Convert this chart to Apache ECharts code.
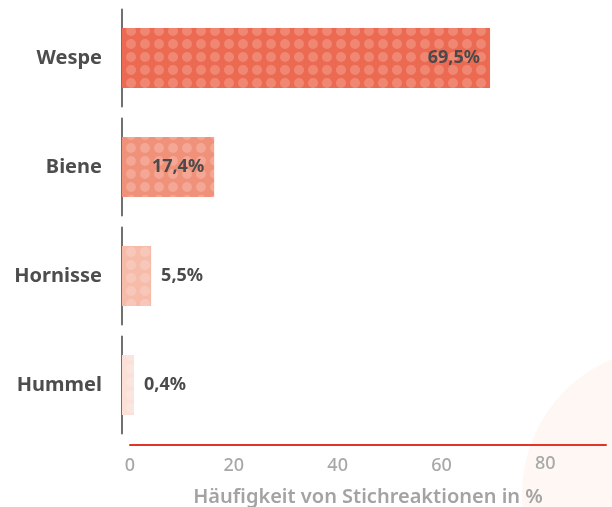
<!DOCTYPE html>
<html>
<head>
<meta charset="utf-8">
<script src="https://cdn.jsdelivr.net/npm/echarts@6/dist/echarts.min.js"></script>
<style>
html,body{margin:0;padding:0;background:#fff;}
#c{width:612px;height:507px;}
</style>
</head>
<body>
<div id="c"></div>
<script>
const categories = ['Wespe', 'Biene', 'Hornisse', 'Hummel'];
const values = [69.5, 17.4, 5.5, 0.4];
const tickValues = [0, 20, 40, 60, 80];
const axisTitle = 'Häufigkeit von Stichreaktionen in %';

const barColors = ['#ec6a51', '#f0917a', '#f6bba9', '#fbe0d7'];
const labelInside = [true, true, false, false];
const FONT = '"Noto Sans", sans-serif';

const chart = echarts.init(document.getElementById('c'), null, {renderer: 'canvas'});

const seriesData = values.map((v, i) => ({
  value: v,
  itemStyle: {
    color: barColors[i],
    decal: {
      symbol: 'circle',
      symbolSize: 1,
      dashArrayX: [[10, 4]],
      dashArrayY: [10, 3],
      color: 'rgba(255,255,255,0.2)'
    }
  },
  label: {
    position: labelInside[i] ? 'insideRight' : 'right',
    distance: 10
  }
}));

chart.setOption({
  animation: false,
  backgroundColor: '#ffffff',
  graphic: [{
    type: 'circle',
    z: -10,
    silent: true,
    shape: {cx: 668, cy: 494, r: 146},
    style: {fill: '#fef7f3'}
  }],
  grid: [
    {left: 122, right: 6, top: 3.5, height: 436, containLabel: false, outerBoundsMode: 'none'},
    {left: 130, right: 6, top: 3.5, height: 436, containLabel: false, outerBoundsMode: 'none'}
  ],
  xAxis: [
    {
      gridIndex: 0, type: 'value', min: 0, max: 91.4, show: false
    },
    {
      gridIndex: 1, type: 'value', min: 0, max: 91.7, interval: 20,
      offset: 5.5,
      axisLine: {show: true, lineStyle: {color: '#e3342a', width: 2}},
      axisTick: {show: false},
      splitLine: {show: false},
      axisLabel: {
        color: '#a8a8a8', fontSize: 18, fontFamily: FONT, fontWeight: 500, margin: 12,
        formatter: v => tickValues.includes(v) ? (v === 80 ? '{h|80}' : String(v)) : '',
        rich: {h: {color: '#a8a8a8', fontSize: 18, fontFamily: FONT, fontWeight: 500, verticalAlign: 'middle', lineHeight: 13}}
      },
      name: axisTitle,
      nameLocation: 'middle',
      nameGap: 42,
      nameTextStyle: {color: '#a3a3a3', fontSize: 20, fontFamily: FONT, fontWeight: 600}
    }
  ],
  yAxis: [
    {
      gridIndex: 0, type: 'category', data: categories, inverse: true,
      axisLine: {show: true, lineStyle: {color: '#707070', width: 2, type: [97, 12], dashOffset: 103}},
      axisTick: {show: false},
      axisLabel: {color: '#4d4d4d', fontSize: 20, fontFamily: FONT, fontWeight: 'bold', margin: 20}
    },
    {
      gridIndex: 1, type: 'category', data: categories, inverse: true, show: false
    }
  ],
  series: [{
    type: 'bar',
    xAxisIndex: 0,
    yAxisIndex: 0,
    barWidth: 60,
    barMinHeight: 12,
    data: seriesData,
    label: {
      show: true,
      color: '#4a4a4a',
      fontSize: 18,
      fontFamily: FONT,
      fontWeight: 'bold',
      formatter: p => String(p.value).replace('.', ',') + '%'
    }
  }]
});
</script>
</body>
</html>
